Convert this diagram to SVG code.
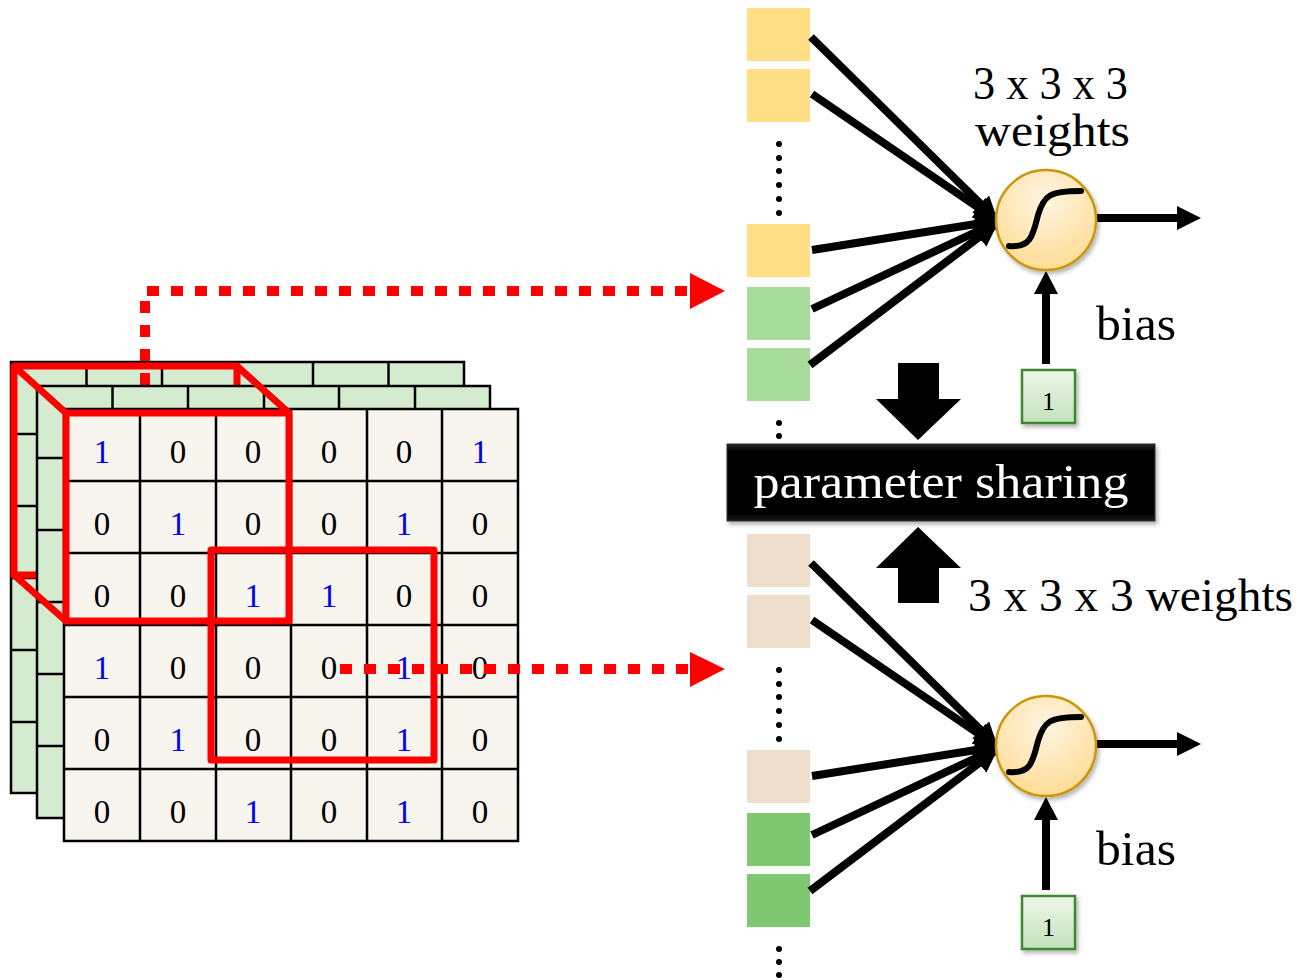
<svg xmlns="http://www.w3.org/2000/svg" width="1301" height="980" viewBox="0 0 1301 980">
<style>
.gl{stroke:#000;stroke-width:2.5;fill:none}
.num{font-family:"Liberation Serif","DejaVu Serif",serif;font-size:33px;text-anchor:middle}
.one{fill:#0000ee}
.zero{fill:#000}
.red{stroke:#ff0000;stroke-width:7;fill:none;stroke-linejoin:round}
.dot{stroke:#ff0000;stroke-width:10;fill:none;stroke-dasharray:12 12}
.lbl{font-family:"Liberation Serif","DejaVu Serif",serif;fill:#000}
.conn{stroke:#000;stroke-width:8;fill:none}
.bd{fill:#000}
</style>
<defs>
<marker id="ah" markerUnits="userSpaceOnUse" markerWidth="26" markerHeight="26" refX="20" refY="13" orient="auto">
<path d="M0,1 L24,13 L0,25 Z" fill="#000"/>
</marker>
<radialGradient id="neu" cx="0.5" cy="0.3" r="0.8">
<stop offset="0" stop-color="#fff4e2"/>
<stop offset="1" stop-color="#ffd98a"/>
</radialGradient>
<linearGradient id="bia" x1="0" y1="0" x2="0" y2="1">
<stop offset="0" stop-color="#eef6ea"/>
<stop offset="1" stop-color="#c3e2bb"/>
</linearGradient>
<linearGradient id="ps" x1="0" y1="0" x2="0" y2="1">
<stop offset="0" stop-color="#2a2a2a"/>
<stop offset="0.08" stop-color="#050505"/>
<stop offset="0.92" stop-color="#050505"/>
<stop offset="1" stop-color="#1a1a1a"/>
</linearGradient>
<filter id="sh" x="-20%" y="-20%" width="140%" height="140%">
<feDropShadow dx="2" dy="3" stdDeviation="2" flood-color="#000" flood-opacity="0.3"/>
</filter>
</defs>

<g id="input-volume">
<g id="layer-back">
<rect x="11" y="362" width="453" height="431" fill="#d4ebd0"/>
<path class="gl" d="M11,362 H464 V793 H11 Z M86.5,362 V793 M162,362 V793 M237.5,362 V793 M313,362 V793 M388.5,362 V793 M11,434 H464 M11,506 H464 M11,578 H464 M11,650 H464 M11,722 H464"/>
</g>
<rect id="field-back" class="red" x="14" y="366" width="223" height="209"/>
<path class="dot" d="M145,385 V291 H692"/>
<g id="layer-mid">
<rect x="37" y="386" width="453" height="432" fill="#d4ebd0"/>
<path class="gl" d="M37,386 H490 V818 H37 Z M112.5,386 V818 M188,386 V818 M264,386 V818 M339,386 V818 M415,386 V818 M37,458 H490 M37,530 H490 M37,602 H490 M37,674 H490 M37,746 H490"/>
</g>
<g id="layer-front">
<rect x="64" y="409" width="454" height="432" fill="#f8f4ee"/>
<path class="gl" d="M64,409 H518 V841 H64 Z M140,409 V841 M216,409 V841 M291,409 V841 M367,409 V841 M442,409 V841 M64,481 H518 M64,553 H518 M64,625 H518 M64,697 H518 M64,769 H518"/>
<g class="num">
<text class="one" x="102" y="463">1</text><text class="zero" x="178" y="463">0</text><text class="zero" x="253" y="463">0</text><text class="zero" x="329" y="463">0</text><text class="zero" x="404" y="463">0</text><text class="one" x="480" y="463">1</text>
<text class="zero" x="102" y="535">0</text><text class="one" x="178" y="535">1</text><text class="zero" x="253" y="535">0</text><text class="zero" x="329" y="535">0</text><text class="one" x="404" y="535">1</text><text class="zero" x="480" y="535">0</text>
<text class="zero" x="102" y="607">0</text><text class="zero" x="178" y="607">0</text><text class="one" x="253" y="607">1</text><text class="one" x="329" y="607">1</text><text class="zero" x="404" y="607">0</text><text class="zero" x="480" y="607">0</text>
<text class="one" x="102" y="679">1</text><text class="zero" x="178" y="679">0</text><text class="zero" x="253" y="679">0</text><text class="zero" x="329" y="679">0</text><text class="one" x="404" y="679">1</text><text class="zero" x="480" y="679">0</text>
<text class="zero" x="102" y="751">0</text><text class="one" x="178" y="751">1</text><text class="zero" x="253" y="751">0</text><text class="zero" x="329" y="751">0</text><text class="one" x="404" y="751">1</text><text class="zero" x="480" y="751">0</text>
<text class="zero" x="102" y="823">0</text><text class="zero" x="178" y="823">0</text><text class="one" x="253" y="823">1</text><text class="zero" x="329" y="823">0</text><text class="one" x="404" y="823">1</text><text class="zero" x="480" y="823">0</text>
</g>
</g>
<g id="field-1">
<path class="red" d="M14,366 L66,413 M237,366 L289,413 M14,575 L66,621"/>
<rect class="red" x="66" y="413" width="223" height="208"/>
</g>
<path class="dot" d="M340,669 H692"/>
<rect id="field-2" class="red" x="211" y="550" width="223" height="210"/>
</g>

<g id="arrows-dotted">
<polygon points="690,273 725,291 690,309" fill="#ff0000"/>
<polygon points="690,652 725,669 690,687" fill="#ff0000"/>
</g>

<g id="inputs-top">
<rect x="747" y="8" width="63" height="53" fill="#ffdf85"/>
<rect x="747" y="69" width="63" height="53" fill="#ffdf85"/>
<g class="bd"><circle cx="779" cy="144" r="3"/><circle cx="779" cy="158" r="3"/><circle cx="779" cy="171" r="3"/><circle cx="779" cy="185" r="3"/><circle cx="779" cy="199" r="3"/><circle cx="779" cy="213" r="3"/></g>
<rect x="747" y="224" width="63" height="53" fill="#ffdf85"/>
<rect x="747" y="287" width="63" height="53" fill="#a8dc9c"/>
<rect x="747" y="348" width="63" height="53" fill="#a8dc9c"/>
<g class="bd"><circle cx="779" cy="423" r="3"/><circle cx="779" cy="436" r="3"/></g>
</g>

<g id="inputs-bottom">
<rect x="747" y="534" width="63" height="53" fill="#eedfcc"/>
<rect x="747" y="595" width="63" height="53" fill="#eedfcc"/>
<g class="bd"><circle cx="779" cy="670" r="3"/><circle cx="779" cy="684" r="3"/><circle cx="779" cy="697" r="3"/><circle cx="779" cy="711" r="3"/><circle cx="779" cy="725" r="3"/><circle cx="779" cy="739" r="3"/></g>
<rect x="747" y="750" width="63" height="53" fill="#eedfcc"/>
<rect x="747" y="813" width="63" height="53" fill="#7dc870"/>
<rect x="747" y="874" width="63" height="53" fill="#7dc870"/>
<g class="bd"><circle cx="779" cy="949" r="3"/><circle cx="779" cy="962" r="3"/><circle cx="779" cy="975" r="3"/></g>
</g>

<g id="connectors">
<line class="conn" x1="811" y1="37" x2="995" y2="218" marker-end="url(#ah)"/>
<line class="conn" x1="812" y1="94" x2="995" y2="219" marker-end="url(#ah)"/>
<line class="conn" x1="812" y1="250" x2="995" y2="221" marker-end="url(#ah)"/>
<line class="conn" x1="812" y1="309" x2="995" y2="223" marker-end="url(#ah)"/>
<line class="conn" x1="810" y1="365" x2="995" y2="225" marker-end="url(#ah)"/>
<line class="conn" x1="1097" y1="218" x2="1180" y2="218"/>
<polygon points="1177,206 1201,218 1177,230" fill="#000"/>
<line class="conn" x1="1046" y1="364" x2="1046" y2="290"/>
<polygon points="1034,294 1046,271 1058,294" fill="#000"/>
<line class="conn" x1="811" y1="563" x2="995" y2="744" marker-end="url(#ah)"/>
<line class="conn" x1="812" y1="620" x2="995" y2="745" marker-end="url(#ah)"/>
<line class="conn" x1="812" y1="776" x2="995" y2="747" marker-end="url(#ah)"/>
<line class="conn" x1="812" y1="835" x2="995" y2="749" marker-end="url(#ah)"/>
<line class="conn" x1="810" y1="891" x2="995" y2="751" marker-end="url(#ah)"/>
<line class="conn" x1="1097" y1="744" x2="1180" y2="744"/>
<polygon points="1177,732 1201,744 1177,756" fill="#000"/>
<line class="conn" x1="1046" y1="890" x2="1046" y2="816"/>
<polygon points="1034,820 1046,797 1058,820" fill="#000"/>
</g>

<g id="neuron-top">
<circle cx="1046" cy="220" r="50" fill="url(#neu)" stroke="#c9960f" stroke-width="2.5" filter="url(#sh)"/>
<path d="M1009,246 C1031,248 1033,235 1038,215 C1044,195 1050,191 1081,191" fill="none" stroke="#000" stroke-width="6" stroke-linecap="round"/>
</g>
<g id="neuron-bottom">
<circle cx="1046" cy="746" r="50" fill="url(#neu)" stroke="#c9960f" stroke-width="2.5" filter="url(#sh)"/>
<path d="M1009,772 C1031,774 1033,761 1038,741 C1044,721 1050,717 1081,717" fill="none" stroke="#000" stroke-width="6" stroke-linecap="round"/>
</g>

<g id="bias-top">
<rect x="1022" y="370" width="53" height="53" fill="url(#bia)" stroke="#3e8a2e" stroke-width="2.5" filter="url(#sh)"/>
<text class="lbl" x="1048.5" y="410" font-size="26" text-anchor="middle">1</text>
</g>
<g id="bias-bottom">
<rect x="1022" y="896" width="53" height="53" fill="url(#bia)" stroke="#3e8a2e" stroke-width="2.5" filter="url(#sh)"/>
<text class="lbl" x="1048.5" y="936" font-size="26" text-anchor="middle">1</text>
</g>

<g id="labels">
<text class="lbl" x="973" y="99" font-size="46" textLength="155" lengthAdjust="spacingAndGlyphs">3 x 3 x 3</text>
<text class="lbl" x="975" y="146" font-size="46" textLength="155" lengthAdjust="spacingAndGlyphs">weights</text>
<text class="lbl" x="1096" y="340" font-size="48" textLength="80" lengthAdjust="spacingAndGlyphs">bias</text>
<text class="lbl" x="968" y="611" font-size="46" textLength="325" lengthAdjust="spacingAndGlyphs">3 x 3 x 3 weights</text>
<text class="lbl" x="1096" y="865" font-size="48" textLength="80" lengthAdjust="spacingAndGlyphs">bias</text>
</g>

<g id="sharing">
<polygon points="898,363 939,363 939,399 961,399 918,440 876,399 898,399" fill="#000"/>
<rect x="727" y="444" width="428" height="77" fill="url(#ps)" stroke="#333" stroke-width="1" filter="url(#sh)"/>
<text x="941" y="498" font-family="Liberation Serif, DejaVu Serif, serif" font-size="48" fill="#fff" text-anchor="middle" textLength="375" lengthAdjust="spacingAndGlyphs">parameter sharing</text>
<polygon points="918,527 961,568 939,568 939,603 898,603 898,568 876,568" fill="#000"/>
</g>
</svg>
